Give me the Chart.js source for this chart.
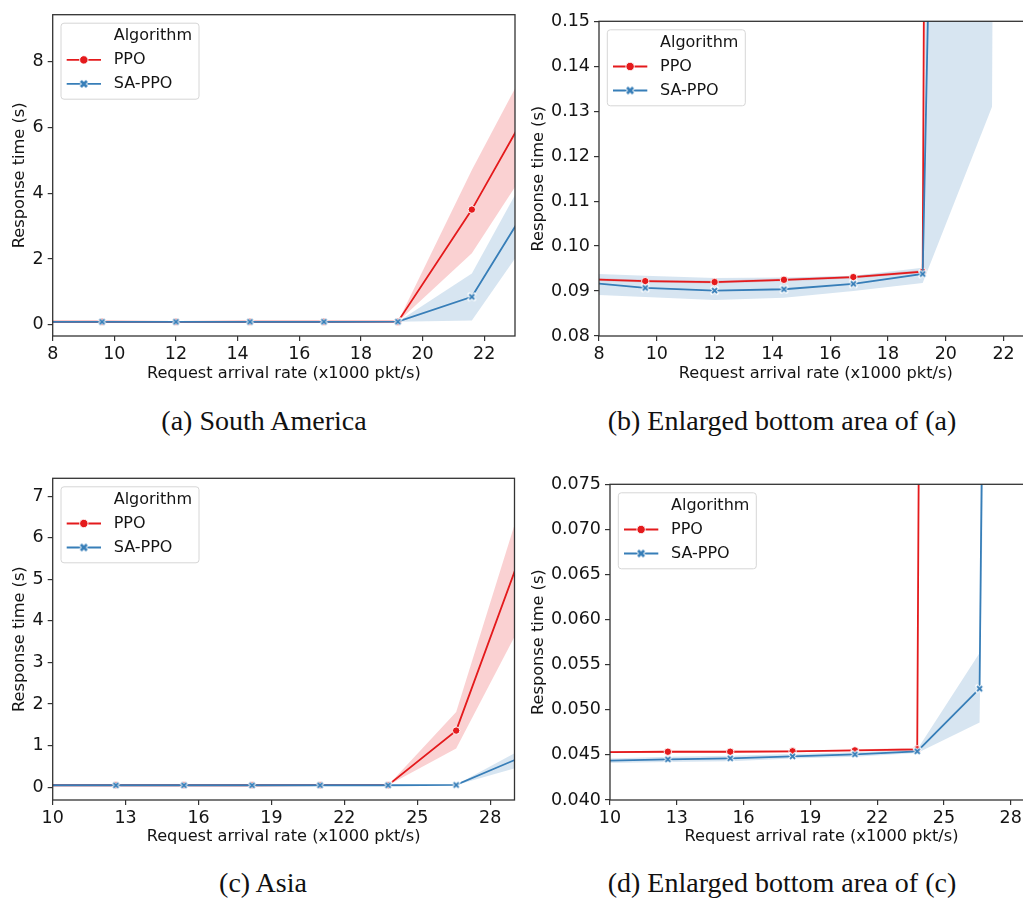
<!DOCTYPE html>
<html>
<head>
<meta charset="utf-8">
<title>Response time vs request arrival rate</title>
<script src="https://cdn.jsdelivr.net/npm/chart.js@4.4.1/dist/chart.umd.min.js"></script>
<style>
  html, body { margin: 0; padding: 0; background: #fff; overflow: hidden; }
  #page { position: relative; width: 1023px; height: 898px; overflow: hidden; background: #fff; }
  #page canvas { position: absolute; }
  .caption {
    position: absolute; transform: translate(-50%, -50%); white-space: nowrap;
    font-family: "Liberation Serif", "DejaVu Serif", serif; font-size: 28px; color: #111;
  }
</style>
</head>
<body>
<div id="page">
  <canvas id="chartA" width="520" height="400" style="left:0px; top:0px"></canvas>
  <canvas id="chartB" width="513" height="400" style="left:520px; top:0px"></canvas>
  <canvas id="chartC" width="520" height="420" style="left:0px; top:440px"></canvas>
  <canvas id="chartD" width="513" height="420" style="left:520px; top:440px"></canvas>
  <div class="caption" style="left:264px; top:421px">(a) South America</div>
  <div class="caption" style="left:782px; top:421px">(b) Enlarged bottom area of (a)</div>
  <div class="caption" style="left:263px; top:883px">(c) Asia</div>
  <div class="caption" style="left:782px; top:883px">(d) Enlarged bottom area of (c)</div>
</div>
<script>
// ---- South America: request arrival rate (x1000 pkt/s) vs response time (s) ----
const southAmRate = [7.2, 9.6, 12.0, 14.4, 16.8, 19.2, 21.6, 24.0];
const southAmPpo = [0.0927, 0.0922, 0.0920, 0.0925, 0.0931, 0.0943, 3.50, 7.48];
const southAmPpoLow = [0.0924, 0.0919, 0.0917, 0.0922, 0.0928, 0.0940, 2.17, 5.63];
const southAmPpoHigh = [0.0930, 0.0925, 0.0923, 0.0928, 0.0934, 0.0947, 4.70, 8.95];
const southAmSaPpo = [0.0921, 0.0907, 0.0901, 0.0904, 0.0916, 0.0938, 0.85, 4.50];
const southAmSaPpoLow = [0.0893, 0.0887, 0.0880, 0.0885, 0.0900, 0.0918, 0.131, 3.36];
const southAmSaPpoHigh = [0.0940, 0.0934, 0.0929, 0.0930, 0.0934, 0.0952, 1.56, 5.64];

// ---- Asia ----
const asiaRate = [9.8, 12.6, 15.4, 18.2, 21.0, 23.8, 26.6, 29.4];
const asiaPpo = [0.04530, 0.04535, 0.04535, 0.04540, 0.04550, 0.04562, 1.36, 5.82];
const asiaPpoLow = [0.04520, 0.04525, 0.04525, 0.04530, 0.04540, 0.04550, 0.93, 4.07];
const asiaPpoHigh = [0.04540, 0.04545, 0.04545, 0.04550, 0.04560, 0.04580, 1.81, 7.06];
const asiaSaPpo = [0.04435, 0.04451, 0.04462, 0.04484, 0.04506, 0.04540, 0.05234, 0.75];
const asiaSaPpoLow = [0.04410, 0.04420, 0.04430, 0.04460, 0.04480, 0.04520, 0.04860, 0.52];
const asiaSaPpoHigh = [0.04460, 0.04480, 0.04490, 0.04510, 0.04530, 0.04560, 0.05630, 0.94];

// ---- axis ticks and ranges ----
const southAmXTicks = [8, 10, 12, 14, 16, 18, 20, 22];
const asiaXTicks = [10, 13, 16, 19, 22, 25, 28];
const fullYTicksA = [0, 2, 4, 6, 8];
const zoomYTicksB = [0.08, 0.09, 0.10, 0.11, 0.12, 0.13, 0.14, 0.15];
const fullYTicksC = [0, 1, 2, 3, 4, 5, 6, 7];
const zoomYTicksD = [0.040, 0.045, 0.050, 0.055, 0.060, 0.065, 0.070, 0.075];

const seriesNames = ['PPO', 'SA-PPO'];
const xTitle = 'Request arrival rate (x1000 pkt/s)';
const yTitle = 'Response time (s)';
const legendTitle = 'Algorithm';

// ---- styling ----
const RED = '#e41a1c';
const BLUE = '#377eb8';
const RED_BAND = 'rgba(228, 26, 28, 0.2)';
const BLUE_BAND = 'rgba(55, 126, 184, 0.2)';
const FONT = 'DejaVu Sans';
const INK = '#141414';
const SPINE = '#333333';
const TICK_SIZE = 17.5;
const TITLE_SIZE = 16.2;

function crossMarker(color, size, outer, inner) {
  const pad = 3;
  const c = document.createElement('canvas');
  c.width = c.height = size + pad * 2;
  const g = c.getContext('2d');
  const a = pad, b = size + pad;
  g.lineCap = 'round';
  g.strokeStyle = '#ffffff';
  g.lineWidth = outer;
  g.beginPath(); g.moveTo(a, a); g.lineTo(b, b); g.moveTo(b, a); g.lineTo(a, b); g.stroke();
  g.lineCap = 'butt';
  g.strokeStyle = color;
  g.lineWidth = inner;
  g.beginPath(); g.moveTo(a, a); g.lineTo(b, b); g.moveTo(b, a); g.lineTo(a, b); g.stroke();
  return c;
}
const crossPoint = crossMarker(BLUE, 5, 3.6, 1.8);
const crossLegend = crossMarker(BLUE, 6, 4.4, 2.8);

function pts(xs, ys) { return xs.map((x, i) => ({ x, y: ys[i] })); }

function buildDatasets(rate, ppo, ppoLo, ppoHi, sa, saLo, saHi) {
  const band = (data, fill, color, order) => ({
    data: pts(rate, data), fill, backgroundColor: color,
    borderColor: 'rgba(0,0,0,0)', borderWidth: 0, pointRadius: 0, order
  });
  return [
    band(ppoHi, '+1', RED_BAND, 10),
    band(ppoLo, false, RED_BAND, 10),
    band(saHi, '+1', BLUE_BAND, 9),
    band(saLo, false, BLUE_BAND, 9),
    {
      label: seriesNames[0], series: true, data: pts(rate, ppo), fill: false,
      borderColor: RED, borderWidth: 1.8, pointStyle: 'circle', pointRadius: 3.7,
      pointBackgroundColor: RED, pointBorderColor: '#ffffff', pointBorderWidth: 0.9, order: 2
    },
    {
      label: seriesNames[1], series: true, data: pts(rate, sa), fill: false,
      borderColor: BLUE, borderWidth: 1.8, pointStyle: crossPoint, pointRadius: 4,
      pointBackgroundColor: BLUE, pointBorderColor: '#ffffff', order: 1
    }
  ];
}

// axes frame (all four spines)
const framePlugin = {
  id: 'frame',
  afterDatasetsDraw(chart) {
    const { ctx, chartArea: a } = chart;
    ctx.save();
    ctx.strokeStyle = SPINE;
    ctx.lineWidth = 1.3;
    ctx.strokeRect(a.left, a.top, a.right - a.left, a.bottom - a.top);
    ctx.restore();
  }
};

// boxed legend in the upper-left corner of the plot area
const boxLegendPlugin = {
  id: 'boxLegend',
  afterDraw(chart) {
    const { ctx, chartArea: a } = chart;
    const x0 = a.left + 8.3, y0 = a.top + 8.5, w = 138, h = 76, r = 3;
    ctx.save();
    ctx.beginPath();
    ctx.moveTo(x0 + r, y0);
    ctx.arcTo(x0 + w, y0, x0 + w, y0 + h, r);
    ctx.arcTo(x0 + w, y0 + h, x0, y0 + h, r);
    ctx.arcTo(x0, y0 + h, x0, y0, r);
    ctx.arcTo(x0, y0, x0 + w, y0, r);
    ctx.closePath();
    ctx.fillStyle = 'rgba(255,255,255,0.85)';
    ctx.fill();
    ctx.strokeStyle = '#d6d6d6';
    ctx.lineWidth = 1;
    ctx.stroke();

    ctx.font = '16px "' + FONT + '"';
    ctx.fillStyle = INK;
    ctx.textBaseline = 'middle';
    ctx.textAlign = 'left';
    const textX = x0 + 52.7;
    ctx.fillText(legendTitle, textX, y0 + 12.7);

    const entries = chart.data.datasets.filter(d => d.series);
    entries.forEach((d, i) => {
      const y = y0 + 36.7 + i * 24;
      ctx.strokeStyle = d.borderColor;
      ctx.lineWidth = 1.8;
      ctx.beginPath();
      ctx.moveTo(x0 + 5.7, y);
      ctx.lineTo(x0 + 40, y);
      ctx.stroke();
      const cx = x0 + 22.8;
      if (d.pointStyle === 'circle') {
        ctx.beginPath();
        ctx.arc(cx, y, 4.2, 0, Math.PI * 2);
        ctx.fillStyle = d.pointBackgroundColor;
        ctx.fill();
        ctx.strokeStyle = '#ffffff';
        ctx.lineWidth = 0.9;
        ctx.stroke();
      } else {
        ctx.drawImage(crossLegend, cx - crossLegend.width / 2, y - crossLegend.height / 2);
      }
      ctx.fillStyle = INK;
      ctx.fillText(d.label, textX, y);
    });
    ctx.restore();
  }
};

// area: plot rectangle inside the canvas (left, top, right, bottom)
function makeChart(id, area, datasets, xr, xt, yr, yt, yDecimals, yTitleGap, xTitleGap) {
  const canvas = document.getElementById(id);
  const W = canvas.width, H = canvas.height;
  const xAxisHeight = 50;
  const titleLH = TITLE_SIZE * 1.2;
  return new Chart(canvas, {
    type: 'line',
    data: { datasets },
    plugins: [framePlugin, boxLegendPlugin],
    options: {
      responsive: false,
      animation: false,
      events: [],
      layout: {
        autoPadding: false,
        padding: { left: 0, top: area.top, right: W - area.right, bottom: H - area.bottom - xAxisHeight }
      },
      plugins: { legend: { display: false }, tooltip: { enabled: false } },
      scales: {
        x: {
          type: 'linear', min: xr[0], max: xr[1],
          afterBuildTicks: s => { s.ticks = xt.map(v => ({ value: v })); },
          afterFit: s => { s.height = xAxisHeight; },
          border: { display: false },
          grid: { drawOnChartArea: false, drawTicks: true, tickLength: 5, tickColor: SPINE, lineWidth: 1.2 },
          ticks: {
            autoSkip: false, maxRotation: 0, padding: 3, color: INK,
            font: { family: FONT, size: TICK_SIZE },
            callback: v => String(Math.round(v))
          },
          title: {
            display: true, text: xTitle, color: INK, font: { family: FONT, size: TITLE_SIZE },
            padding: { top: 0, bottom: xAxisHeight - titleLH / 2 - xTitleGap }
          }
        },
        y: {
          type: 'linear', min: yr[0], max: yr[1],
          afterBuildTicks: s => { s.ticks = yt.map(v => ({ value: v })); },
          afterFit: s => { s.width = area.left; },
          border: { display: false },
          grid: { drawOnChartArea: false, drawTicks: true, tickLength: 5, tickColor: SPINE, lineWidth: 1.2 },
          ticks: {
            autoSkip: false, padding: 4, color: INK,
            font: { family: FONT, size: TICK_SIZE },
            callback: v => Number(v).toFixed(yDecimals)
          },
          title: {
            display: true, text: yTitle, color: INK, font: { family: FONT, size: TITLE_SIZE },
            padding: { top: area.left - yTitleGap - titleLH / 2, bottom: 0 }
          }
        }
      }
    }
  });
}

const southAmSets = () => buildDatasets(southAmRate, southAmPpo, southAmPpoLow, southAmPpoHigh,
  southAmSaPpo, southAmSaPpoLow, southAmSaPpoHigh);
const asiaSets = () => buildDatasets(asiaRate, asiaPpo, asiaPpoLow, asiaPpoHigh,
  asiaSaPpo, asiaSaPpoLow, asiaSaPpoHigh);

makeChart('chartA', { left: 52.7, top: 14.7, right: 515, bottom: 336 }, southAmSets(),
  [8, 23], southAmXTicks, [-0.34, 9.42], fullYTicksA, 0, 32.7, 37.3);
makeChart('chartB', { left: 79, top: 21.3, right: 512.5, bottom: 336 }, southAmSets(),
  [8, 23], southAmXTicks, [0.08, 0.15], zoomYTicksB, 2, 60.7, 37.3);
makeChart('chartC', { left: 52.7, top: 38.3, right: 514.5, bottom: 360 }, asiaSets(),
  [10, 29], asiaXTicks, [-0.31, 7.43], fullYTicksC, 0, 32.7, 36.7);
makeChart('chartD', { left: 90, top: 44.3, right: 513, bottom: 360 }, asiaSets(),
  [10, 29], asiaXTicks, [0.040, 0.075], zoomYTicksD, 3, 71.7, 36.7);
</script>
</body>
</html>
